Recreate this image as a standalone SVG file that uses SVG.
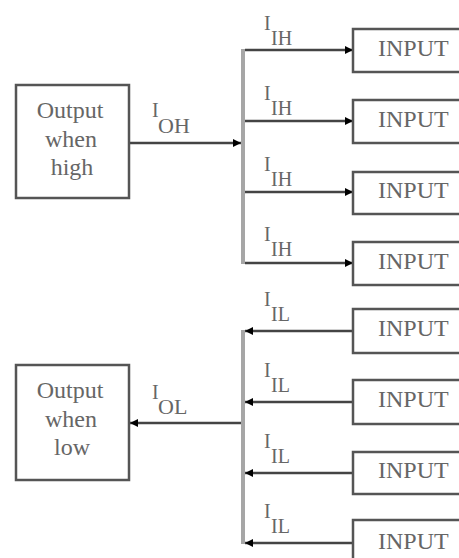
<svg xmlns="http://www.w3.org/2000/svg" width="459" height="558" viewBox="0 0 459 558">
<style>
.box{fill:#fff;stroke:#555;stroke-width:2.5}
.t{font-family:"Liberation Serif","Times New Roman",serif;fill:#666;font-size:24px}
.c{text-anchor:middle}
.ln{stroke:#444;stroke-width:2.5;fill:none}
.bus{stroke:#a6a6a6;stroke-width:4;fill:none}
.s{font-size:20px}
</style>
<defs>
<marker id="ah" viewBox="0 0 10 10" refX="10" refY="5" markerWidth="4" markerHeight="3.2" orient="auto" markerUnits="strokeWidth">
<path d="M0,0 L10,5 L0,10 z" fill="#000"/>
</marker>
</defs>
<rect width="459" height="558" fill="#fff"/>
<g id="connectors">
<line class="bus" x1="243" y1="49" x2="243" y2="264"/>
<line class="bus" x1="243" y1="330" x2="243" y2="544"/>
<line class="ln" x1="130" y1="143" x2="241" y2="143" marker-end="url(#ah)"/>
<line class="ln" x1="245" y1="50" x2="353" y2="50" marker-end="url(#ah)"/>
<line class="ln" x1="245" y1="121" x2="353" y2="121" marker-end="url(#ah)"/>
<line class="ln" x1="245" y1="192" x2="353" y2="192" marker-end="url(#ah)"/>
<line class="ln" x1="245" y1="263" x2="353" y2="263" marker-end="url(#ah)"/>
<line class="ln" x1="241" y1="423" x2="130" y2="423" marker-end="url(#ah)"/>
<line class="ln" x1="353" y1="331" x2="245" y2="331" marker-end="url(#ah)"/>
<line class="ln" x1="353" y1="402" x2="245" y2="402" marker-end="url(#ah)"/>
<line class="ln" x1="353" y1="473" x2="245" y2="473" marker-end="url(#ah)"/>
<line class="ln" x1="353" y1="543" x2="245" y2="543" marker-end="url(#ah)"/>
</g>
<g id="out-high">
<rect class="box" x="16" y="85" width="113" height="113"/>
<text class="t c" x="70" y="118">Output</text>
<text class="t c" x="71" y="147">when</text>
<text class="t c" x="72" y="175">high</text>
</g>
<g id="out-low">
<rect class="box" x="16" y="365" width="113" height="115"/>
<text class="t c" x="70" y="398">Output</text>
<text class="t c" x="71" y="427">when</text>
<text class="t c" x="72" y="455">low</text>
</g>
<g id="in1"><rect class="box" x="353" y="29" width="120" height="43"/><text class="t" x="378" y="56">INPUT</text></g>
<g id="in2"><rect class="box" x="353" y="100" width="120" height="43"/><text class="t" x="378" y="127">INPUT</text></g>
<g id="in3"><rect class="box" x="353" y="172" width="120" height="42"/><text class="t" x="378" y="198">INPUT</text></g>
<g id="in4"><rect class="box" x="353" y="242" width="120" height="43"/><text class="t" x="378" y="269">INPUT</text></g>
<g id="in5"><rect class="box" x="353" y="309" width="120" height="44"/><text class="t" x="378" y="336">INPUT</text></g>
<g id="in6"><rect class="box" x="353" y="380" width="120" height="44"/><text class="t" x="378" y="407">INPUT</text></g>
<g id="in7"><rect class="box" x="353" y="452" width="120" height="42"/><text class="t" x="378" y="478">INPUT</text></g>
<g id="in8"><rect class="box" x="353" y="520" width="120" height="50"/><text class="t" x="378" y="549">INPUT</text></g>
<g id="labels">
<text class="t" x="152" y="117"><tspan class="s">I</tspan><tspan x="158" y="133" font-size="22">OH</tspan></text>
<text class="t" x="264" y="30"><tspan class="s">I</tspan><tspan x="271" y="45" font-size="20">IH</tspan></text>
<text class="t" x="264" y="100"><tspan class="s">I</tspan><tspan x="271" y="115" font-size="20">IH</tspan></text>
<text class="t" x="264" y="171"><tspan class="s">I</tspan><tspan x="271" y="186" font-size="20">IH</tspan></text>
<text class="t" x="264" y="241"><tspan class="s">I</tspan><tspan x="271" y="256" font-size="20">IH</tspan></text>
<text class="t" x="152" y="399"><tspan class="s">I</tspan><tspan x="158" y="414" font-size="22">OL</tspan></text>
<text class="t" x="264" y="306"><tspan class="s">I</tspan><tspan x="271" y="321" font-size="20">IL</tspan></text>
<text class="t" x="264" y="377"><tspan class="s">I</tspan><tspan x="271" y="392" font-size="20">IL</tspan></text>
<text class="t" x="264" y="448"><tspan class="s">I</tspan><tspan x="271" y="463" font-size="20">IL</tspan></text>
<text class="t" x="264" y="518"><tspan class="s">I</tspan><tspan x="271" y="533" font-size="20">IL</tspan></text>
</g>
</svg>
